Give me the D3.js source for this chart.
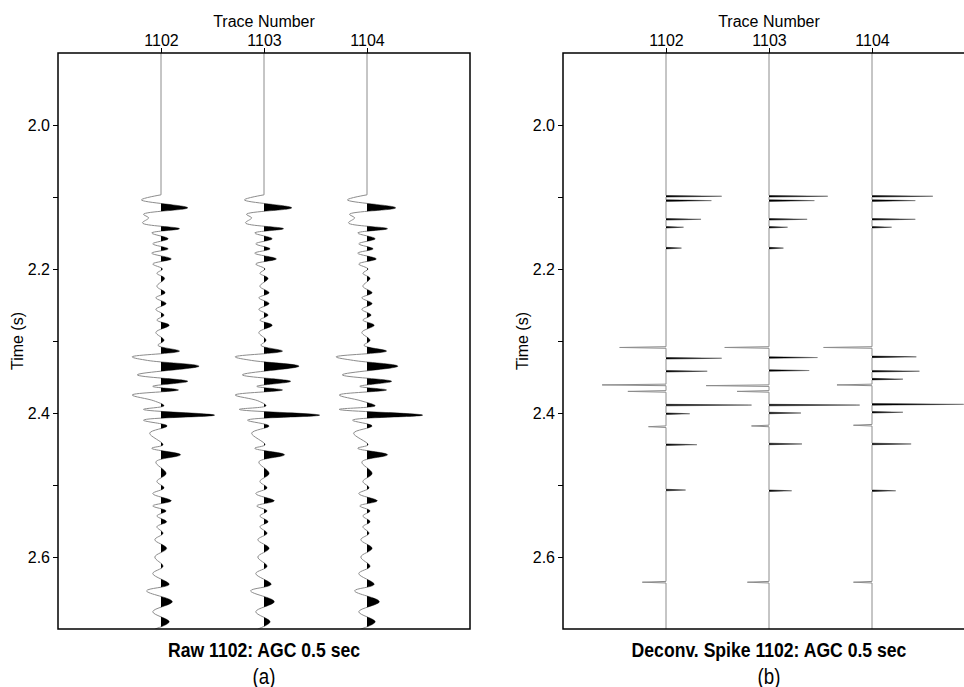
<!DOCTYPE html>
<html>
<head>
<meta charset="utf-8">
<script src="https://cdn.jsdelivr.net/npm/d3@7"></script>
<style>
  body { margin: 0; background: #fff; }
  svg text { font-family: "Liberation Sans", Arial, sans-serif; fill: #000; }
</style>
</head>
<body>
<div id="chart"></div>
<script>
const width = 964, height = 687;

const traceNumbers = [1102, 1103, 1104];
const timeTicks = [2.0, 2.1, 2.2, 2.3, 2.4, 2.5, 2.6];

// raw traces: peaks / troughs (time in s, amplitude in trace spacings)
const rawTimes = [1.900, 2.097, 2.104, 2.115, 2.124, 2.129, 2.136, 2.144, 2.150, 2.158,
                  2.165, 2.172, 2.178, 2.186, 2.193, 2.200, 2.206, 2.213, 2.224, 2.233,
                  2.240, 2.248, 2.256, 2.264, 2.271, 2.278, 2.288, 2.299, 2.306, 2.314,
                  2.322, 2.327, 2.335, 2.347, 2.356, 2.363, 2.368, 2.375, 2.383, 2.390,
                  2.395, 2.403, 2.410, 2.418, 2.428, 2.444, 2.449, 2.458, 2.468, 2.484,
                  2.495, 2.504, 2.512, 2.522, 2.529, 2.536, 2.543, 2.551, 2.558, 2.567,
                  2.576, 2.588, 2.600, 2.613, 2.623, 2.638, 2.647, 2.662, 2.676, 2.690,
                  2.700];
const raw1102 = [0, 0, -0.19, 0.26, -0.17, -0.12, -0.18, 0.18, -0.09, 0.07,
                 -0.08, 0.07, -0.09, 0.10, -0.08, 0.015, -0.04, 0.035, -0.04, 0.04,
                 -0.05, 0.05, -0.05, 0.03, -0.04, 0.08, -0.05, 0.03, -0.03, 0.18,
                 -0.28, -0.13, 0.37, -0.23, 0.26, -0.08, 0.17, -0.28, -0.07, 0.03,
                 -0.17, 0.52, -0.17, 0.06, -0.11, 0.02, -0.09, 0.19, -0.05, 0.05,
                 -0.04, 0.03, -0.08, 0.10, -0.08, 0.05, -0.04, 0.055, -0.04, 0.02,
                 -0.06, 0.055, -0.06, 0.02, -0.08, 0.08, -0.14, 0.11, -0.08, 0.08,
                 -0.06];
const raw1103 = [0, 0, -0.19, 0.27, -0.17, -0.12, -0.18, 0.19, -0.09, 0.08,
                 -0.08, 0.06, -0.09, 0.12, -0.08, 0.01, -0.04, 0.04, -0.04, 0.05,
                 -0.05, 0.05, -0.05, 0.04, -0.04, 0.08, -0.05, 0.02, -0.03, 0.18,
                 -0.28, -0.12, 0.34, -0.21, 0.26, -0.07, 0.18, -0.28, -0.06, 0.02,
                 -0.24, 0.54, -0.16, 0.05, -0.12, 0.01, -0.09, 0.20, -0.05, 0.05,
                 -0.04, 0.03, -0.08, 0.10, -0.07, 0.03, -0.04, 0.04, -0.04, 0.03,
                 -0.06, 0.05, -0.06, 0.03, -0.08, 0.07, -0.13, 0.10, -0.08, 0.06,
                 -0.06];
const raw1104 = [0, 0, -0.19, 0.28, -0.17, -0.12, -0.18, 0.20, -0.09, 0.08,
                 -0.08, 0.06, -0.09, 0.09, -0.08, 0.01, -0.04, 0.03, -0.04, 0.05,
                 -0.05, 0.05, -0.05, 0.04, -0.04, 0.07, -0.05, 0.03, -0.03, 0.19,
                 -0.30, -0.13, 0.30, -0.24, 0.24, -0.07, 0.19, -0.27, -0.06, 0.08,
                 -0.27, 0.54, -0.14, 0.05, -0.13, 0.01, -0.09, 0.20, -0.05, 0.05,
                 -0.04, 0.02, -0.08, 0.10, -0.07, 0.03, -0.04, 0.03, -0.04, 0.02,
                 -0.06, 0.05, -0.06, 0.03, -0.08, 0.07, -0.12, 0.12, -0.08, 0.08,
                 -0.06];

// deconvolved spikes: [time s, amplitude in trace spacings]
const spikes1102 = [[2.099, 0.54], [2.105, 0.44], [2.131, 0.34], [2.142, 0.17], [2.171, 0.15],
                    [2.309, -0.45], [2.324, 0.54], [2.342, 0.40], [2.361, -0.62], [2.370, -0.37],
                    [2.389, 0.83], [2.401, 0.23], [2.419, -0.17], [2.444, 0.30], [2.507, 0.19],
                    [2.635, -0.23]];
const spikes1103 = [[2.099, 0.57], [2.105, 0.44], [2.131, 0.37], [2.142, 0.18], [2.171, 0.14],
                    [2.309, -0.43], [2.323, 0.47], [2.341, 0.39], [2.362, -0.61], [2.370, -0.31],
                    [2.389, 0.88], [2.400, 0.31], [2.418, -0.17], [2.443, 0.32], [2.508, 0.22],
                    [2.635, -0.21]];
const spikes1104 = [[2.099, 0.59], [2.105, 0.42], [2.131, 0.42], [2.142, 0.19],
                    [2.309, -0.47], [2.322, 0.43], [2.342, 0.46], [2.353, 0.30], [2.361, -0.34],
                    [2.388, 0.89], [2.399, 0.30], [2.417, -0.18], [2.443, 0.38], [2.508, 0.23],
                    [2.635, -0.18]];

const rawTraces = [raw1102, raw1103, raw1104];
const spikeTraces = [spikes1102, spikes1103, spikes1104];
const sampleHalf = 0.0011;   // half width of one spike sample

const svg = d3.select("#chart").append("svg")
    .attr("width", width)
    .attr("height", height);

const plotTop = 53, plotBottom = 629;
const y = d3.scaleLinear().domain([1.9, 2.7]).range([plotTop, plotBottom]);

const panels = [
    {left: 58, right: 470, title: "Raw 1102: AGC 0.5 sec", label: "(a)", id: "a"},
    {left: 563, right: 975, title: "Deconv. Spike 1102: AGC 0.5 sec", label: "(b)", id: "b"}
];
panels.forEach(p => {
    p.x = d3.scaleLinear().domain([1101, 1105]).range([p.left, p.right]);
});

const wiggleStroke = "#8c8c8c";

function drawAxes(p) {
    const g = svg.append("g");
    g.append("g")
        .attr("transform", `translate(${p.left},0)`)
        .call(d3.axisLeft(y).tickValues(timeTicks).tickSize(5).tickPadding(3)
              .tickFormat(d => Math.round(d * 10) % 2 === 0 ? d3.format(".1f")(d) : ""))
        .call(a => a.select(".domain").remove())
        .call(a => a.selectAll("text").style("font-size", "16px").attr("font-family", null));
    g.append("g")
        .attr("transform", `translate(0,${plotTop})`)
        .call(d3.axisTop(p.x).tickValues(traceNumbers).tickSize(5).tickPadding(2)
              .tickFormat(d3.format("d")))
        .call(a => a.select(".domain").remove())
        .call(a => a.selectAll("text").style("font-size", "16px").attr("font-family", null));

    g.append("text")
        .attr("x", p.x(1103)).attr("y", 26.5)
        .attr("text-anchor", "middle")
        .style("font-size", "16px")
        .text("Trace Number");
    g.append("text")
        .attr("transform", `translate(${p.left - 35},${(plotTop + plotBottom) / 2}) rotate(-90)`)
        .attr("text-anchor", "middle")
        .style("font-size", "16px")
        .text("Time (s)");
    // condensed look of the captions
    g.append("text")
        .attr("transform", `translate(${p.x(1103)},657) scale(0.88,1)`)
        .attr("text-anchor", "middle")
        .style("font-size", "20px").style("font-weight", "bold")
        .text(p.title);
    g.append("text")
        .attr("transform", `translate(${p.x(1103)},684) scale(0.85,1)`)
        .attr("text-anchor", "middle")
        .style("font-size", "22px")
        .text(p.label);
}

function drawTrace(p, trace, pts, lineCurve, k) {
    const cid = `clip-${p.id}-${k}`;
    svg.append("clipPath").attr("id", cid)
      .append("rect")
        .attr("x", p.x(trace)).attr("y", plotTop)
        .attr("width", 300).attr("height", plotBottom - plotTop);

    const line = d3.line()
        .x(d => p.x(trace + d.amp))
        .y(d => y(d.t))
        .curve(lineCurve);
    const area = d3.area()
        .y(d => y(d.t))
        .x0(p.x(trace))
        .x1(d => p.x(trace + d.amp))
        .curve(lineCurve);

    const g = svg.append("g").attr("clip-path", "url(#frame-" + p.id + ")");
    g.append("path")
        .datum(pts)
        .attr("d", line)
        .attr("fill", "none")
        .attr("stroke", wiggleStroke)
        .attr("stroke-width", 1);
    g.append("path")
        .datum(pts)
        .attr("d", area)
        .attr("clip-path", `url(#${cid})`)
        .attr("fill", "#000");
    return g;
}

panels.forEach(p => {
    svg.append("clipPath").attr("id", "frame-" + p.id)
      .append("rect")
        .attr("x", p.left).attr("y", plotTop)
        .attr("width", p.right - p.left).attr("height", plotBottom - plotTop);
});

// (a) raw wiggle traces: quiet zero line first, then the wiggle
rawTraces.forEach((amps, k) => {
    const trace = traceNumbers[k];
    const pts = rawTimes.map((t, i) => ({t: t, amp: amps[i]}));
    const g = drawTrace(panels[0], trace, pts.slice(1), d3.curveCatmullRom.alpha(0.5), k);
    g.append("line")
        .attr("x1", panels[0].x(trace)).attr("x2", panels[0].x(trace))
        .attr("y1", y(rawTimes[0])).attr("y2", y(rawTimes[1]))
        .attr("stroke", wiggleStroke)
        .attr("stroke-width", 1);
});

// (b) spike traces
spikeTraces.forEach((sp, k) => {
    const pts = [{t: 1.9, amp: 0}];
    sp.forEach(([t, a]) => {
        pts.push({t: t - sampleHalf, amp: 0}, {t: t, amp: a}, {t: t + sampleHalf, amp: 0});
    });
    pts.push({t: 2.7, amp: 0});
    drawTrace(panels[1], traceNumbers[k], pts, d3.curveLinear, k);
});

panels.forEach(p => {
    svg.append("rect")
        .attr("x", p.left).attr("y", plotTop)
        .attr("width", p.right - p.left).attr("height", plotBottom - plotTop)
        .attr("fill", "none")
        .attr("stroke", "#000")
        .attr("stroke-width", 1.5);
    drawAxes(p);
});
</script>
</body>
</html>
